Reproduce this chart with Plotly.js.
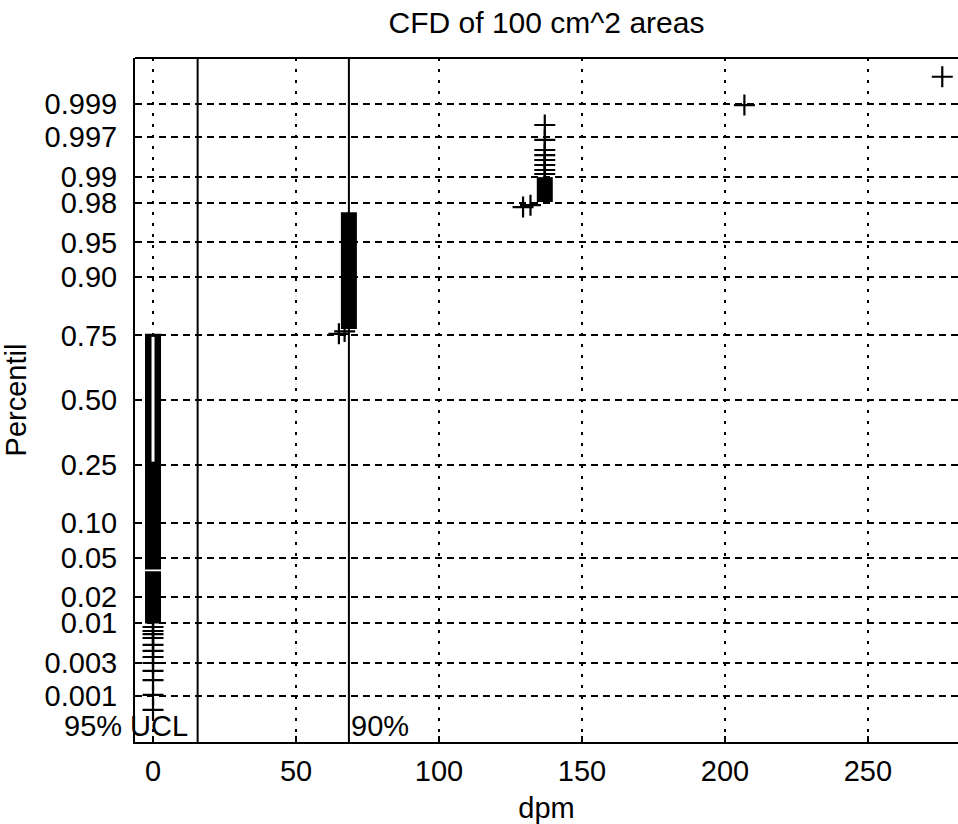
<!DOCTYPE html>
<html>
<head>
<meta charset="utf-8">
<script src="https://cdn.plot.ly/plotly-3.0.1.min.js"></script>
<style>html,body{margin:0;padding:0;background:#fff;overflow:hidden}</style>
</head>
<body>
<div id="chart" style="width:958px;height:824px"></div>
<script>
// ---- Data (x in dpm, y as cumulative percentile) ----
// individually visible "+" markers
const pointX = [0, 0, 0, 0, 0, 0, 0, 0, 0, 0, 0, 0,
                65, 67,
                129.4, 132, 137, 137, 137, 137, 137, 137, 137, 137,
                206.8, 276];
const pointP = [0.00061, 0.00104, 0.00173, 0.00234, 0.00302, 0.00365, 0.00440, 0.00528, 0.00649, 0.00728, 0.00795, 0.00890,
                0.755, 0.763,
                0.978, 0.979, 0.99084, 0.99182, 0.99292, 0.99388, 0.99472, 0.99547, 0.99668, 0.99795,
                0.99896, 0.99963];
// densely stacked markers that merge into solid bands: x, lowest and highest percentile
const bandX    = [0, 0, 68.5, 137];
const bandLow  = [0.0098, 0.0385, 0.771, 0.9806];
const bandHigh = [0.0370, 0.755, 0.975, 0.990];
// hollow part inside the x=0 band
const hollowX = [0];
const hollowLow = [0.26];
const hollowHigh = [0.745];
// reference lines
const uclValue = 15.6;   // 95% UCL
const p90Value = 68.5;   // 90%
const refLabels = ['95% UCL', '90%'];
// axis ticks
const yTickP = [0.001, 0.003, 0.01, 0.02, 0.05, 0.10, 0.25, 0.50, 0.75, 0.90, 0.95, 0.98, 0.99, 0.997, 0.999];
const yTickText = ['0.001', '0.003', '0.01', '0.02', '0.05', '0.10', '0.25', '0.50', '0.75', '0.90', '0.95', '0.98', '0.99', '0.997', '0.999'];
const xTicks = [0, 50, 100, 150, 200, 250];

// inverse standard normal CDF (Acklam) -> normal probability scale
function norminv(p) {
  const a = [-3.969683028665376e+01, 2.209460984245205e+02, -2.759285104469687e+02, 1.383577518672690e+02, -3.066479806614716e+01, 2.506628277459239e+00];
  const b = [-5.447609879822406e+01, 1.615858368580409e+02, -1.556989798598866e+02, 6.680131188771972e+01, -1.328068155288572e+01];
  const c = [-7.784894002430293e-03, -3.223964580411365e-01, -2.400758277161838e+00, -2.549732539343734e+00, 4.374664141464968e+00, 2.938163982698783e+00];
  const d = [7.784695709041462e-03, 3.224671290700398e-01, 2.445134137142996e+00, 3.754408661907416e+00];
  const pl = 0.02425, ph = 1 - pl;
  let q, r;
  if (p < pl) {
    q = Math.sqrt(-2 * Math.log(p));
    return (((((c[0]*q+c[1])*q+c[2])*q+c[3])*q+c[4])*q+c[5]) / ((((d[0]*q+d[1])*q+d[2])*q+d[3])*q+1);
  } else if (p <= ph) {
    q = p - 0.5; r = q * q;
    return (((((a[0]*r+a[1])*r+a[2])*r+a[3])*r+a[4])*r+a[5])*q / (((((b[0]*r+b[1])*r+b[2])*r+b[3])*r+b[4])*r+1);
  } else {
    q = Math.sqrt(-2 * Math.log(1 - p));
    return -(((((c[0]*q+c[1])*q+c[2])*q+c[3])*q+c[4])*q+c[5]) / ((((d[0]*q+d[1])*q+d[2])*q+d[3])*q+1);
  }
}

const FONT = 'Liberation Sans, Arial, sans-serif';
const FS = 29;
const traces = [];
// bands
for (let i = 0; i < bandX.length; i++) {
  traces.push({
    x: [bandX[i], bandX[i]],
    y: [norminv(bandLow[i]), norminv(bandHigh[i])],
    mode: 'lines', type: 'scatter', hoverinfo: 'skip', showlegend: false,
    line: {color: '#000', width: 16}
  });
}
for (let i = 0; i < hollowX.length; i++) {
  traces.push({
    x: [hollowX[i], hollowX[i]],
    y: [norminv(hollowLow[i]), norminv(hollowHigh[i])],
    mode: 'lines', type: 'scatter', hoverinfo: 'skip', showlegend: false,
    line: {color: '#fff', width: 3}
  });
}
// points
traces.push({
  x: pointX,
  y: pointP.map(norminv),
  mode: 'markers', type: 'scatter', showlegend: false,
  marker: {symbol: 'cross-thin', size: 15, color: '#000', line: {color: '#000', width: 2.2}}
});

const layout = {
  width: 958, height: 824,
  paper_bgcolor: '#fff', plot_bgcolor: '#fff',
  margin: {l: 135, r: 0, t: 58, b: 82, pad: 0},
  font: {family: FONT, size: FS, color: '#000'},
  title: {text: 'CFD of 100 cm^2 areas', font: {family: FONT, size: 30, color: '#000'},
          x: 0.5, xref: 'paper', xanchor: 'center', y: 0.973, yref: 'container', yanchor: 'middle'},
  xaxis: {
    range: [-6.3, 281.5], tickvals: xTicks, ticktext: xTicks.map(String),
    showgrid: true, gridcolor: '#000', gridwidth: 2, griddash: '3px,8px',
    zeroline: false, showline: true, linecolor: '#000', linewidth: 2, mirror: false,
    ticks: 'inside', ticklen: 6, tickwidth: 2, tickcolor: '#000',
    ticklabelstandoff: 2,
    tickfont: {family: FONT, size: FS, color: '#000'},
    title: {text: 'dpm', font: {family: FONT, size: FS, color: '#000'}, standoff: 14}
  },
  yaxis: {
    range: [-3.57, 3.57], tickvals: yTickP.map(norminv), ticktext: yTickText,
    showgrid: true, gridcolor: '#000', gridwidth: 2, griddash: '7px,5px',
    zeroline: false, showline: true, linecolor: '#000', linewidth: 2, mirror: false,
    ticks: 'inside', ticklen: 6, tickwidth: 2, tickcolor: '#000',
    ticklabelstandoff: 10,
    tickfont: {family: FONT, size: FS, color: '#000'},
    title: {text: 'Percentil', font: {family: FONT, size: FS, color: '#000'}, standoff: 10}
  },
  shapes: [
    {type: 'line', xref: 'paper', yref: 'paper', x0: 0, x1: 1, y0: 1, y1: 1, line: {color: '#000', width: 2}},
    {type: 'line', xref: 'x', yref: 'paper', x0: uclValue, x1: uclValue, y0: 0, y1: 1, line: {color: '#000', width: 2}},
    {type: 'line', xref: 'x', yref: 'paper', x0: p90Value, x1: p90Value, y0: 0, y1: 1, line: {color: '#000', width: 2}}
  ],
  annotations: [
    {text: refLabels[0], xref: 'x', yref: 'paper', x: uclValue, y: 0, xanchor: 'right', yanchor: 'bottom',
     xshift: -8, yshift: -2, showarrow: false, font: {family: FONT, size: FS, color: '#000'}},
    {text: refLabels[1], xref: 'x', yref: 'paper', x: p90Value, y: 0, xanchor: 'left', yanchor: 'bottom',
     xshift: 0, yshift: -2, showarrow: false, font: {family: FONT, size: FS, color: '#000'}}
  ]
};

Plotly.newPlot('chart', traces, layout, {displayModeBar: false, staticPlot: true});
</script>
</body>
</html>
